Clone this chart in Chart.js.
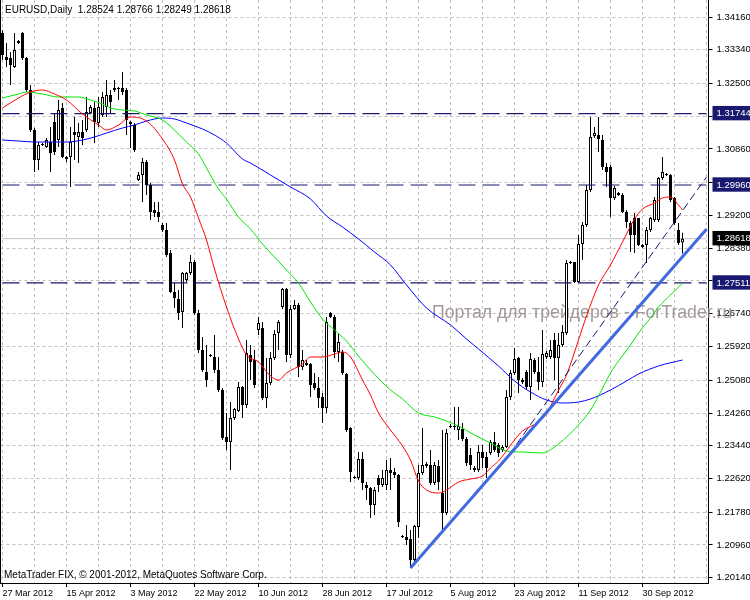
<!DOCTYPE html>
<html>
<head>
<meta charset="utf-8">
<title>EURUSD Daily</title>
<script src="https://cdn.jsdelivr.net/npm/chart.js@4.4.1/dist/chart.umd.min.js"></script>
<style>
  html, body { margin: 0; padding: 0; background: #fff; }
  #wrap { width: 750px; height: 600px; position: relative; }
</style>
</head>
<body>
<div id="wrap"><canvas id="chart"></canvas></div>
<script>
// EURUSD daily bars, 27 Mar 2012 .. 11 Oct 2012 (FIX feed, Sunday bars included)
const open = [
  1.33760, 1.33160, 1.33135, 1.32910, 1.33560, 1.33760, 1.33135, 1.32335, 1.31335, 1.30585,
  1.30960, 1.30910, 1.31035, 1.31535, 1.31085, 1.31885, 1.30660, 1.30660, 1.31285, 1.31160,
  1.31285, 1.31335, 1.31760, 1.31885, 1.31510, 1.31710, 1.31910, 1.32210, 1.32335, 1.32385,
  1.32385, 1.32335, 1.31535, 1.31460, 1.30085, 1.30210, 1.30535, 1.29960, 1.29335, 1.29285,
  1.28960, 1.28835, 1.28260, 1.27285, 1.27110, 1.26785, 1.27585, 1.27760, 1.28035, 1.26760,
  1.25835, 1.25285, 1.25710, 1.25660, 1.25335, 1.24835, 1.23660, 1.23535, 1.24135, 1.24310,
  1.24910, 1.24460, 1.25710, 1.25585, 1.26335, 1.26385, 1.24635, 1.25010, 1.25635, 1.26260,
  1.26910, 1.27360, 1.25710, 1.26860, 1.26960, 1.25410, 1.25460, 1.25485, 1.25010, 1.24885,
  1.24660, 1.24385, 1.26760, 1.26660, 1.25785, 1.25785, 1.25235, 1.23885, 1.22660, 1.22635,
  1.23110, 1.22460, 1.22385, 1.21960, 1.22635, 1.22460, 1.22460, 1.22835, 1.22785, 1.22710,
  1.21185, 1.21160, 1.21110, 1.20585, 1.21410, 1.22760, 1.22935, 1.22960, 1.22510, 1.22935,
  1.22260, 1.21760, 1.23910, 1.23935, 1.23835, 1.23860, 1.23610, 1.23210, 1.22885, 1.22835,
  1.23285, 1.23160, 1.23260, 1.23535, 1.23460, 1.23335, 1.23410, 1.24660, 1.25260, 1.25635,
  1.25085, 1.25285, 1.24910, 1.25585, 1.25285, 1.25035, 1.25660, 1.25660, 1.26085, 1.25635,
  1.25960, 1.26260, 1.28035, 1.28035, 1.27535, 1.28485, 1.28960, 1.29835, 1.31185, 1.31210,
  1.31085, 1.30410, 1.30410, 1.29635, 1.29760, 1.29710, 1.29285, 1.29010, 1.29135, 1.29135,
  1.28460, 1.28460, 1.28835, 1.29085, 1.29085, 1.30135, 1.30210, 1.30210, 1.29635, 1.28835,
  1.28524
];
const high = [
  1.33835, 1.33510, 1.33285, 1.33760, 1.33585, 1.33785, 1.33160, 1.32460, 1.31385, 1.31035,
  1.31010, 1.31135, 1.31410, 1.31760, 1.32085, 1.32010, 1.30685, 1.31410, 1.31660, 1.31510,
  1.31585, 1.32160, 1.31960, 1.32035, 1.32160, 1.32285, 1.32585, 1.32335, 1.32585, 1.32410,
  1.32785, 1.32385, 1.31560, 1.31510, 1.30285, 1.30635, 1.30585, 1.30010, 1.29535, 1.29535,
  1.29010, 1.29010, 1.28335, 1.27510, 1.27335, 1.27785, 1.27785, 1.28210, 1.28085, 1.26835,
  1.26160, 1.25960, 1.25735, 1.26210, 1.25660, 1.24885, 1.24260, 1.24535, 1.24385, 1.25035,
  1.24935, 1.26085, 1.25960, 1.25835, 1.26660, 1.26535, 1.25635, 1.25785, 1.26335, 1.26585,
  1.27385, 1.27385, 1.26960, 1.27085, 1.27010, 1.25835, 1.25585, 1.25510, 1.25260, 1.25160,
  1.24760, 1.26660, 1.26785, 1.26710, 1.26260, 1.25835, 1.25260, 1.23910, 1.22685, 1.23285,
  1.23285, 1.22535, 1.22410, 1.22410, 1.22710, 1.22835, 1.23085, 1.23135, 1.22885, 1.22735,
  1.21210, 1.21460, 1.21335, 1.21460, 1.22960, 1.23885, 1.23035, 1.23335, 1.23035, 1.23085,
  1.23835, 1.23860, 1.23985, 1.24410, 1.24410, 1.24010, 1.23660, 1.23385, 1.22935, 1.23460,
  1.23460, 1.23285, 1.23585, 1.23785, 1.23510, 1.23460, 1.24835, 1.25335, 1.25885, 1.25660,
  1.25135, 1.25335, 1.25760, 1.25635, 1.25660, 1.26335, 1.25810, 1.26085, 1.26260, 1.26260,
  1.26460, 1.28085, 1.28060, 1.28035, 1.28710, 1.29035, 1.29960, 1.31660, 1.31410, 1.31660,
  1.31210, 1.30510, 1.30460, 1.29935, 1.29785, 1.29760, 1.29335, 1.29060, 1.29260, 1.29135,
  1.28485, 1.28910, 1.29160, 1.29660, 1.30160, 1.30660, 1.30260, 1.30235, 1.29660, 1.29010,
  1.28766
];
const low = [
  1.33085, 1.32910, 1.32460, 1.32885, 1.33485, 1.33085, 1.32285, 1.31285, 1.30285, 1.30335,
  1.30935, 1.30885, 1.30285, 1.30710, 1.30910, 1.30635, 1.30535, 1.29910, 1.30585, 1.30510,
  1.30960, 1.31285, 1.31735, 1.31010, 1.31410, 1.31660, 1.31660, 1.31760, 1.32285, 1.32085,
  1.32210, 1.31210, 1.30885, 1.30785, 1.30060, 1.29535, 1.29710, 1.29085, 1.29160, 1.29035,
  1.28785, 1.28160, 1.27260, 1.26885, 1.26585, 1.26385, 1.27535, 1.27710, 1.26710, 1.25760,
  1.25285, 1.24910, 1.25660, 1.25260, 1.24785, 1.23585, 1.23335, 1.22835, 1.24085, 1.24285,
  1.24135, 1.24385, 1.25085, 1.24885, 1.26210, 1.24585, 1.24385, 1.24960, 1.25585, 1.25835,
  1.26860, 1.25535, 1.25635, 1.26835, 1.25160, 1.25335, 1.25435, 1.24660, 1.24835, 1.24385,
  1.24010, 1.24260, 1.26635, 1.25635, 1.25535, 1.25210, 1.23785, 1.22535, 1.22610, 1.22585,
  1.22335, 1.22085, 1.21635, 1.21710, 1.22285, 1.22410, 1.22335, 1.22335, 1.22635, 1.21410,
  1.21135, 1.20960, 1.20385, 1.20535, 1.21135, 1.22710, 1.22885, 1.22460, 1.22460, 1.22335,
  1.21335, 1.21710, 1.23885, 1.23835, 1.23585, 1.23560, 1.22935, 1.22835, 1.22785, 1.22785,
  1.22885, 1.22635, 1.23210, 1.23285, 1.23160, 1.23285, 1.23385, 1.24585, 1.25210, 1.24760,
  1.24985, 1.24835, 1.24585, 1.25235, 1.24835, 1.24910, 1.25610, 1.25610, 1.25085, 1.24760,
  1.25910, 1.26210, 1.27985, 1.27510, 1.27510, 1.28085, 1.28910, 1.29785, 1.31135, 1.30785,
  1.30335, 1.29910, 1.29160, 1.29585, 1.29685, 1.29260, 1.28885, 1.28285, 1.28260, 1.28435,
  1.28385, 1.28010, 1.28785, 1.29035, 1.29035, 1.30085, 1.30185, 1.29535, 1.28960, 1.28460,
  1.28249
];
const close = [
  1.33210, 1.33085, 1.32960, 1.33335, 1.33510, 1.33135, 1.32335, 1.31335, 1.30585, 1.30960,
  1.30985, 1.31085, 1.30760, 1.30785, 1.31835, 1.30660, 1.30610, 1.31035, 1.31210, 1.31285,
  1.31135, 1.31785, 1.31910, 1.31535, 1.31910, 1.32160, 1.32210, 1.32035, 1.32385, 1.32360,
  1.32285, 1.31585, 1.31485, 1.30835, 1.30210, 1.30535, 1.29960, 1.29285, 1.29260, 1.29160,
  1.28835, 1.28210, 1.27285, 1.27135, 1.26760, 1.27760, 1.27760, 1.28035, 1.26760, 1.25835,
  1.25335, 1.25085, 1.25685, 1.25335, 1.24835, 1.23635, 1.23535, 1.24135, 1.24360, 1.24910,
  1.24460, 1.25760, 1.25535, 1.24960, 1.26510, 1.24635, 1.25010, 1.25635, 1.26235, 1.26535,
  1.27360, 1.25710, 1.26860, 1.26960, 1.25410, 1.25585, 1.25510, 1.24960, 1.24885, 1.24635,
  1.24385, 1.26535, 1.26660, 1.25785, 1.26035, 1.25260, 1.23835, 1.22785, 1.22635, 1.23110,
  1.22510, 1.22385, 1.21960, 1.22335, 1.22460, 1.22635, 1.22835, 1.22760, 1.22710, 1.21535,
  1.21160, 1.21085, 1.20585, 1.21435, 1.22760, 1.22960, 1.22985, 1.22510, 1.22960, 1.22535,
  1.21760, 1.23760, 1.23935, 1.23910, 1.23935, 1.23610, 1.23010, 1.22960, 1.22835, 1.23285,
  1.23135, 1.22885, 1.23535, 1.23335, 1.23260, 1.23410, 1.24660, 1.25260, 1.25610, 1.25085,
  1.25035, 1.24910, 1.25610, 1.25285, 1.25035, 1.25735, 1.25760, 1.25835, 1.25635, 1.25960,
  1.26285, 1.28010, 1.28010, 1.27535, 1.28485, 1.28960, 1.29835, 1.31160, 1.31260, 1.31110,
  1.30410, 1.30285, 1.29635, 1.29885, 1.29710, 1.29285, 1.29035, 1.28710, 1.28710, 1.28460,
  1.28410, 1.28835, 1.29135, 1.29585, 1.30135, 1.30285, 1.30235, 1.29585, 1.29010, 1.28510,
  1.28618
];

// one date label every 16 bars
const dateTicks = ['27 Mar 2012', '15 Apr 2012', '3 May 2012', '22 May 2012', '10 Jun 2012',
  '28 Jun 2012', '17 Jul 2012', '5 Aug 2012', '23 Aug 2012', '11 Sep 2012', '30 Sep 2012'];
const priceTicks = [1.34160, 1.33340, 1.32500, 1.31680, 1.30860, 1.30020, 1.29200, 1.28380, 1.27560,
  1.26740, 1.25920, 1.25080, 1.24260, 1.23440, 1.22620, 1.21780, 1.20960, 1.20140];
const coveredTicks = [1.31680, 1.30020, 1.27560];   // hidden behind the level boxes
const markedLevels = [1.31744, 1.29960, 1.27511];
const bidPrice = 1.28618;

// moving averages: [bar, price]
const maRed = [
  [0, 1.31885], [4, 1.32135], [7, 1.32285], [10, 1.32335], [13, 1.32235], [16, 1.32085],
  [20, 1.31735], [24, 1.31460], [26, 1.31335], [29, 1.31460], [32, 1.31660], [36, 1.31560],
  [40, 1.31110], [43, 1.30585], [45, 1.29985], [47, 1.29660], [49, 1.29135], [51, 1.28585],
  [53, 1.27860], [56, 1.26910], [59, 1.26110], [61, 1.25710], [64, 1.25535], [67, 1.25185],
  [69, 1.25085], [71, 1.25260], [75, 1.25485], [77, 1.25660], [80, 1.25660], [83, 1.25735],
  [85, 1.25785], [87, 1.25660], [90, 1.25085], [92, 1.24710], [94, 1.24260], [97, 1.23835],
  [100, 1.23435], [102, 1.23085], [104, 1.22560], [106, 1.22335], [109, 1.22260], [111, 1.22335],
  [114, 1.22535], [117, 1.22610], [120, 1.22685], [122, 1.22885], [124, 1.23060], [128, 1.23585],
  [130, 1.23810], [134, 1.24035], [136, 1.24235], [138, 1.24635], [140, 1.25010], [141, 1.25210],
  [144, 1.26085], [146, 1.26685], [149, 1.27460], [152, 1.27960], [155, 1.28535], [158, 1.29110],
  [160, 1.29360], [163, 1.29510], [165, 1.29635], [167, 1.29660], [169, 1.29460], [170, 1.29335]
];
const maGreen = [
  [0, 1.32135], [4, 1.32235], [6, 1.32285], [10, 1.32235], [14, 1.32160], [19, 1.32160],
  [22, 1.32085], [25, 1.31985], [27, 1.31885], [30, 1.31835], [33, 1.31810], [36, 1.31710],
  [40, 1.31585], [44, 1.31235], [46, 1.31035], [49, 1.30735], [51, 1.30385], [54, 1.29860],
  [56, 1.29610], [59, 1.29160], [62, 1.28860], [65, 1.28485], [68, 1.28160], [71, 1.27835],
  [74, 1.27510], [77, 1.27035], [80, 1.26610], [83, 1.26335], [86, 1.26060], [89, 1.25685],
  [92, 1.25335], [97, 1.24835], [100, 1.24610], [104, 1.24260], [108, 1.24160], [111, 1.24060],
  [114, 1.23935], [118, 1.23710], [122, 1.23510], [126, 1.23310], [130, 1.23285], [135, 1.23260],
  [138, 1.23410], [141, 1.23660], [144, 1.23960], [147, 1.24335], [149, 1.24685], [152, 1.25260],
  [154, 1.25560], [157, 1.25960], [159, 1.26260], [162, 1.26635], [164, 1.26910], [167, 1.27210],
  [170, 1.27510]
];
const maBlue = [
  [0, 1.31085], [4, 1.31060], [8, 1.31035], [12, 1.31035], [16, 1.31035], [20, 1.31085],
  [23, 1.31160], [26, 1.31260], [30, 1.31385], [33, 1.31460], [36, 1.31560], [40, 1.31635],
  [43, 1.31610], [46, 1.31510], [50, 1.31360], [53, 1.31210], [56, 1.31010], [60, 1.30610],
  [62, 1.30510], [67, 1.30210], [72, 1.29910], [77, 1.29610], [81, 1.29185], [85, 1.28910],
  [89, 1.28610], [93, 1.28285], [97, 1.27960], [101, 1.27460], [106, 1.26885], [112, 1.26460],
  [116, 1.26110], [119, 1.25860], [124, 1.25435], [128, 1.25060], [132, 1.24785], [136, 1.24585],
  [140, 1.24510], [144, 1.24535], [147, 1.24610], [152, 1.24835], [156, 1.25060], [159, 1.25235],
  [164, 1.25435], [170, 1.25585]
];

// trend lines: [bar, price]
const trendSolid = [[102, 1.20385], [176, 1.28853]];
const trendDashed = [[125, 1.22985], [176, 1.30160]];

const nSlots = 177;   // bars plus the empty right margin
const labels = [];
for (let i = 0; i < nSlots; i++) {
  labels.push(i % 16 === 0 && dateTicks[i / 16] ? dateTicks[i / 16] : '');
}

function sparse(points) {
  const arr = new Array(nSlots).fill(null);
  points.forEach(function(p) { arr[p[0]] = p[1]; });
  return arr;
}

const navy = '#191970';
const gridGray = '#c0c0c0';
const none = 'rgba(0,0,0,0)';

Chart.defaults.font.family = '"Liberation Sans", Arial, sans-serif';
Chart.defaults.font.size = 10;
Chart.defaults.color = '#000';

function lineSet(data, color, width, dash, order) {
  return {
    type: 'line',
    data: data,
    borderColor: color,
    borderWidth: width,
    borderDash: dash || [],
    pointRadius: 0,
    pointHoverRadius: 0,
    spanGaps: true,
    fill: false,
    order: order
  };
}

const datasets = [
  {
    type: 'bar',
    data: low.map(function(l, i) { return [l, high[i]]; }),
    backgroundColor: '#000',
    borderWidth: 0,
    barThickness: 1,
    grouped: false,
    inflateAmount: 0,
    order: 9
  },
  {
    type: 'bar',
    data: open.map(function(o, i) { return [o, close[i]]; }),
    backgroundColor: function(ctx) {
      const i = ctx.dataIndex;
      return close[i] >= open[i] ? '#fff' : '#000';
    },
    borderColor: '#000',
    borderWidth: 1,
    borderSkipped: false,
    barThickness: 3,
    grouped: false,
    inflateAmount: 0,
    order: 8
  },
  lineSet(sparse([[0, bidPrice], [nSlots - 1, bidPrice]]), gridGray, 1, null, 10)
];
markedLevels.forEach(function(lv) {
  datasets.push(lineSet(sparse([[0, lv], [nSlots - 1, lv]]), navy, 1.2, [17, 7], 7));
});
const mRed = lineSet(sparse(maRed), '#ff0000', 1, null, 3);
const mGreen = lineSet(sparse(maGreen), '#00e600', 1, null, 4);
const mBlue = lineSet(sparse(maBlue), '#0000ff', 1, null, 5);
[mRed, mGreen, mBlue].forEach(function(d) { d.cubicInterpolationMode = 'monotone'; });
datasets.push(mBlue, mGreen, mRed);
datasets.push(lineSet(sparse(trendDashed), navy, 1, [8, 4], 2));
datasets.push(lineSet(sparse(trendSolid), '#4169e1', 3, null, 1));

function tickKind(ctx) {
  const v = ctx.tick ? ctx.tick.value : null;
  if (v === bidPrice) return 'bid';
  if (markedLevels.indexOf(v) >= 0) return 'level';
  return 'plain';
}

const chartText = {
  id: 'chartText',
  beforeDatasetsDraw: function(chart) {
    const c = chart.ctx;
    const mark = 'Портал для трейдеров - ForTrader.ru';
    c.save();
    c.font = '20px "Liberation Sans", Arial, sans-serif';
    const size = 20 * 300 / c.measureText(mark).width;
    c.font = size.toFixed(1) + 'px "Liberation Sans", Arial, sans-serif';
    c.fillStyle = 'rgba(140,125,125,0.8)';
    c.textBaseline = 'middle';
    c.fillText(mark, 432, 313);
    c.restore();
  },
  afterDraw: function(chart) {
    const c = chart.ctx;
    const a = chart.chartArea;
    c.save();
    c.strokeStyle = '#000';
    c.lineWidth = 1;
    c.beginPath();
    c.moveTo(a.left, 0);
    c.lineTo(a.left, a.bottom);
    c.stroke();
    c.fillStyle = '#000';
    c.textBaseline = 'middle';
    c.font = '10px "Liberation Sans", Arial, sans-serif';
    c.fillText('EURUSD,Daily  1.28524 1.28766 1.28249 1.28618', 5, 10);
    c.fillText('MetaTrader FIX, \u00a9 2001-2012, MetaQuotes Software Corp.', 4, 575);
    c.restore();
  }
};

new Chart(document.getElementById('chart'), {
  type: 'bar',
  data: { labels: labels, datasets: datasets },
  options: {
    responsive: true,
    maintainAspectRatio: false,
    animation: false,
    events: [],
    layout: { padding: { left: 0.5, top: 0, right: 0, bottom: 0 } },
    plugins: { legend: { display: false }, tooltip: { enabled: false } },
    scales: {
      x: {
        offset: true,
        grid: {
          offset: false,
          color: function(ctx) { return ctx.index % 8 === 0 ? gridGray : none; },
          tickColor: function(ctx) { return ctx.index % 16 === 0 && ctx.index < 161 ? '#000' : none; },
          tickLength: 4
        },
        border: { color: '#000', dash: [3, 3] },
        ticks: {
          autoSkip: false,
          maxRotation: 0,
          minRotation: 0,
          align: 'start',
          padding: 1,
          font: { size: 9 }
        },
        afterFit: function(s) { s.height = 17; s.paddingLeft = 0; s.paddingRight = 0; }
      },
      y: {
        position: 'right',
        min: 1.34585 - 583 / 4000,
        max: 1.34585,
        afterBuildTicks: function(s) {
          s.ticks = priceTicks.concat(markedLevels, [bidPrice]).map(function(v) { return { value: v }; });
        },
        grid: {
          color: function(ctx) { return tickKind(ctx) === 'plain' ? gridGray : none; },
          tickColor: function(ctx) { return tickKind(ctx) === 'plain' ? '#000' : none; },
          tickLength: 4
        },
        border: { color: '#000', dash: [3, 3] },
        ticks: {
          autoSkip: false,
          padding: 4,
          font: { size: 9.5 },
          callback: function(v) { return coveredTicks.indexOf(v) >= 0 ? '' : v.toFixed(5); },
          color: function(ctx) { return tickKind(ctx) === 'plain' ? '#000' : '#fff'; },
          showLabelBackdrop: function(ctx) { return tickKind(ctx) !== 'plain'; },
          backdropColor: function(ctx) { return tickKind(ctx) === 'bid' ? '#000' : navy; },
          backdropPadding: { left: 4, right: 6, top: 2, bottom: 1 }
        },
        afterFit: function(s) { s.width = 41.5; s.paddingTop = 0; s.paddingBottom = 0; }
      }
    }
  },
  plugins: [chartText]
});
</script>
</body>
</html>
